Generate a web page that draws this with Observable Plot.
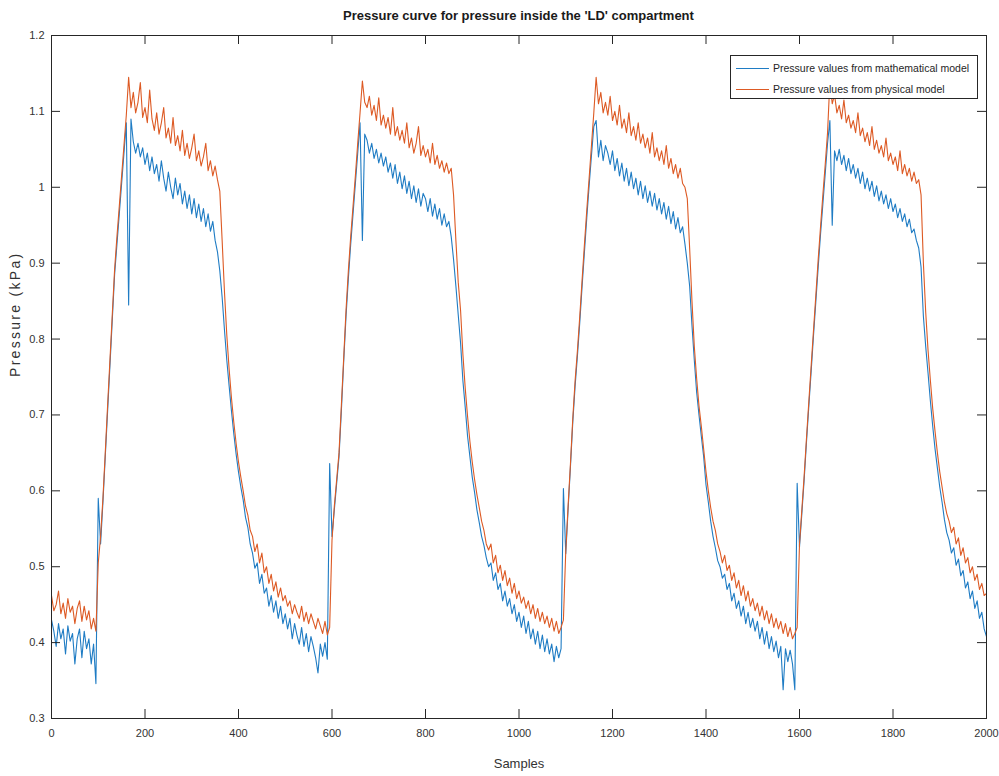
<!DOCTYPE html>
<html><head><meta charset="utf-8">
<script src="https://cdn.jsdelivr.net/npm/d3@7"></script>
<script src="https://cdn.jsdelivr.net/npm/@observablehq/plot@0.6"></script>
<style>
body{margin:0;background:#fff;width:999px;height:776px;overflow:hidden;position:relative;}
.nar{font-family:"Liberation Sans Narrow","Arial Narrow","Liberation Sans",Arial,sans-serif;}
#title{position:absolute;top:0;left:0;width:1037px;height:30px;line-height:32px;text-align:center;font-weight:bold;font-size:13px;color:#1a1a1a;}
#chart{position:absolute;top:30px;left:0;}
#legend{position:absolute;left:730px;top:55px;width:246px;height:42px;border:1px solid #262626;background:#fff;font-size:10.5px;color:#262626;}
#legend .row{position:absolute;left:0;height:22px;line-height:22px;white-space:nowrap;}
#legend .sw{position:absolute;left:5px;top:11px;width:33px;height:0;border-top:1px solid;}
#legend .lb{position:absolute;left:42px;top:0;}
</style></head><body>
<div id="title" class="nar">Pressure curve for pressure inside the 'LD' compartment</div>
<div id="chart"></div>
<div id="legend" class="nar">
  <div class="row" style="top:1px"><span class="sw" style="border-color:#1f7cc4"></span><span class="lb">Pressure values from mathematical model</span></div>
  <div class="row" style="top:22px"><span class="sw" style="border-color:#dd5a24"></span><span class="lb">Pressure values from physical model</span></div>
</div>
<script>
const seriesNames = ["Pressure values from mathematical model", "Pressure values from physical model"];
const seriesColors = ["#1f7cc4", "#dd5a24"];
const sampleStep = 5;
const xTicks = [0, 200, 400, 600, 800, 1000, 1200, 1400, 1600, 1800, 2000];
const xTickLabels = ["0", "200", "400", "600", "800", "1000", "1200", "1400", "1600", "1800", "2000"];
const yTicks = [0.3, 0.4, 0.5, 0.6, 0.7, 0.8, 0.9, 1, 1.1, 1.2];
const yTickLabels = ["0.3", "0.4", "0.5", "0.6", "0.7", "0.8", "0.9", "1", "1.1", "1.2"];

// mathematical model (blue), one value every 5 samples, 0..2000
const mathModel = [
0.430,0.415,0.395,0.425,0.405,0.418,0.385,0.422,0.402,0.412,0.372,0.405,0.418,0.380,0.415,0.392,0.405,0.372,0.398,0.346,
0.590,0.530,0.585,0.645,0.705,0.765,0.825,0.885,0.925,0.965,1.005,1.045,1.085,0.845,1.090,1.060,1.045,1.058,1.040,1.052,
1.030,1.045,1.022,1.040,1.018,1.030,1.008,1.035,1.012,0.995,1.020,1.000,0.985,1.012,0.990,1.005,0.978,0.995,0.972,0.990,
0.965,0.985,0.960,0.978,0.955,0.972,0.948,0.965,0.942,0.955,0.930,0.915,0.890,0.855,0.812,0.772,0.738,0.705,0.675,0.648,
0.625,0.605,0.588,0.565,0.552,0.530,0.518,0.498,0.505,0.478,0.490,0.465,0.472,0.448,0.462,0.440,0.455,0.432,0.448,0.425,
0.438,0.418,0.432,0.405,0.425,0.410,0.398,0.420,0.395,0.412,0.388,0.408,0.395,0.380,0.360,0.398,0.382,0.400,0.378,0.636,
0.540,0.575,0.610,0.645,0.705,0.770,0.830,0.880,0.925,0.965,1.005,1.045,1.085,0.930,1.070,1.062,1.045,1.058,1.038,1.050,
1.032,1.045,1.028,1.040,1.020,1.032,1.012,1.030,1.005,1.020,0.998,1.015,0.992,1.008,0.985,1.002,0.980,0.998,0.975,0.992,
0.985,0.968,0.985,0.962,0.978,0.958,0.972,0.950,0.965,0.948,0.955,0.935,0.905,0.870,0.832,0.795,0.745,0.710,0.672,0.645,
0.618,0.598,0.575,0.558,0.540,0.528,0.512,0.500,0.505,0.482,0.492,0.470,0.478,0.455,0.468,0.448,0.458,0.438,0.450,0.428,
0.440,0.420,0.435,0.412,0.428,0.405,0.418,0.398,0.415,0.392,0.410,0.388,0.405,0.385,0.398,0.375,0.395,0.380,0.392,0.603,
0.517,0.575,0.631,0.690,0.738,0.778,0.822,0.870,0.915,0.960,1.002,1.042,1.080,1.088,1.040,1.062,1.035,1.055,1.045,1.030,
1.048,1.022,1.038,1.015,1.032,1.008,1.025,1.002,1.020,0.998,1.012,0.990,1.008,0.985,1.002,0.980,0.995,0.975,0.992,0.970,
0.985,0.965,0.980,0.958,0.975,0.952,0.968,0.945,0.960,0.940,0.948,0.925,0.900,0.870,0.818,0.772,0.730,0.700,0.672,0.645,
0.608,0.585,0.560,0.540,0.525,0.508,0.500,0.485,0.490,0.470,0.478,0.455,0.465,0.445,0.455,0.435,0.448,0.425,0.440,0.420,
0.432,0.415,0.428,0.405,0.420,0.398,0.415,0.392,0.408,0.388,0.402,0.380,0.395,0.338,0.392,0.375,0.390,0.372,0.338,0.610,
0.526,0.570,0.615,0.665,0.712,0.758,0.805,0.850,0.895,0.938,0.978,1.018,1.058,1.088,0.950,1.048,1.035,1.050,1.030,1.042,
1.022,1.038,1.018,1.030,1.012,1.025,1.005,1.020,0.998,1.012,0.995,1.008,0.988,1.002,0.982,0.995,0.978,0.990,0.972,0.985,
0.968,0.978,0.960,0.972,0.955,0.965,0.948,0.958,0.940,0.945,0.930,0.920,0.895,0.830,0.790,0.755,0.718,0.685,0.655,0.630,
0.605,0.585,0.562,0.545,0.535,0.518,0.525,0.502,0.510,0.488,0.495,0.472,0.480,0.458,0.468,0.445,0.455,0.432,0.440,0.418,
0.408
];

// physical model (orange), one value every 5 samples, 0..2000
const physModel = [
0.462,0.442,0.450,0.468,0.438,0.452,0.432,0.458,0.440,0.448,0.425,0.445,0.455,0.428,0.448,0.430,0.442,0.418,0.432,0.415,
0.505,0.540,0.590,0.650,0.712,0.772,0.832,0.892,0.935,0.975,1.015,1.055,1.095,1.145,1.105,1.125,1.098,1.112,1.138,1.092,
1.105,1.085,1.128,1.090,1.075,1.098,1.070,1.085,1.105,1.065,1.078,1.058,1.092,1.055,1.068,1.048,1.075,1.042,1.058,1.038,
1.052,1.070,1.035,1.048,1.028,1.040,1.058,1.022,1.035,1.015,1.028,1.010,0.995,0.930,0.862,0.805,0.760,0.722,0.690,0.662,
0.638,0.618,0.600,0.580,0.568,0.548,0.540,0.520,0.530,0.505,0.518,0.492,0.500,0.478,0.490,0.468,0.480,0.460,0.472,0.455,
0.462,0.448,0.455,0.438,0.450,0.440,0.432,0.448,0.428,0.440,0.425,0.438,0.428,0.418,0.432,0.422,0.412,0.428,0.410,0.420,
0.535,0.580,0.615,0.650,0.712,0.775,0.838,0.890,0.935,0.975,1.015,1.058,1.098,1.140,1.112,1.105,1.120,1.095,1.108,1.088,
1.118,1.082,1.095,1.078,1.092,1.070,1.105,1.068,1.080,1.062,1.075,1.058,1.085,1.052,1.065,1.045,1.058,1.080,1.042,1.055,
1.040,1.050,1.032,1.058,1.030,1.042,1.025,1.035,1.020,1.032,1.018,1.025,0.990,0.930,0.875,0.838,0.780,0.735,0.698,0.665,
0.638,0.615,0.595,0.578,0.560,0.548,0.530,0.522,0.530,0.505,0.515,0.492,0.502,0.482,0.495,0.475,0.485,0.465,0.478,0.458,
0.468,0.452,0.460,0.445,0.455,0.438,0.450,0.432,0.445,0.428,0.440,0.425,0.435,0.420,0.432,0.415,0.428,0.412,0.420,0.430,
0.520,0.580,0.635,0.695,0.745,0.785,0.830,0.878,0.925,0.970,1.012,1.055,1.098,1.145,1.110,1.125,1.098,1.112,1.095,1.120,
1.088,1.100,1.082,1.108,1.078,1.090,1.072,1.098,1.068,1.080,1.062,1.085,1.058,1.070,1.052,1.065,1.045,1.072,1.040,1.052,
1.035,1.048,1.030,1.055,1.025,1.038,1.018,1.030,1.012,1.025,1.005,1.000,0.985,0.920,0.850,0.790,0.748,0.712,0.685,0.655,
0.625,0.600,0.578,0.560,0.548,0.530,0.520,0.505,0.515,0.495,0.502,0.482,0.492,0.472,0.482,0.462,0.475,0.455,0.468,0.448,
0.458,0.442,0.452,0.435,0.448,0.430,0.442,0.425,0.438,0.420,0.432,0.418,0.428,0.412,0.425,0.408,0.420,0.405,0.412,0.420,
0.530,0.575,0.620,0.670,0.718,0.765,0.812,0.858,0.905,0.948,0.990,1.030,1.072,1.140,1.110,1.122,1.098,1.108,1.090,1.115,
1.085,1.095,1.078,1.088,1.072,1.098,1.068,1.078,1.060,1.072,1.055,1.080,1.050,1.062,1.045,1.055,1.040,1.065,1.035,1.045,
1.030,1.040,1.022,1.048,1.018,1.030,1.015,1.025,1.008,1.020,1.005,1.010,0.990,0.900,0.835,0.785,0.745,0.708,0.678,0.650,
0.625,0.605,0.585,0.570,0.560,0.545,0.552,0.530,0.538,0.515,0.525,0.505,0.512,0.492,0.500,0.482,0.490,0.470,0.478,0.462,
0.465
];

const samples = mathModel.map((_, i) => i * sampleStep);
const rows = [
  ...samples.map((s, i) => ({sample: s, value: mathModel[i], series: seriesNames[0]})),
  ...samples.map((s, i) => ({sample: s, value: physModel[i], series: seriesNames[1]}))
];

const W = 999, H = 746;
const mT = 5, mB = 58, mL = 51, mR = 13;
const innerH = H - mT - mB, innerW = W - mL - mR;
const tickLen = 9;
const axisColor = "#262626";
const font = "'Liberation Sans Narrow','Arial Narrow','Liberation Sans',Arial,sans-serif";

const chart = Plot.plot({
  width: W, height: H,
  marginTop: mT, marginBottom: mB, marginLeft: mL, marginRight: mR,
  style: {fontFamily: font, fontSize: "11px", color: axisColor, background: "#fff"},
  x: {domain: [0, 2000], ticks: xTicks},
  y: {domain: [0.3, 1.2], ticks: yTicks},
  color: {domain: seriesNames, range: seriesColors},
  marks: [
    Plot.lineY(rows, {x: "sample", y: "value", z: "series", stroke: "series", strokeWidth: 1.1}),
    Plot.frame({stroke: axisColor, strokeWidth: 1}),
    Plot.ruleX(xTicks, {x: d => d, insetTop: innerH - tickLen, stroke: axisColor}),
    Plot.ruleX(xTicks, {x: d => d, insetBottom: innerH - tickLen, stroke: axisColor}),
    Plot.ruleY(yTicks, {y: d => d, insetRight: innerW - tickLen, stroke: axisColor}),
    Plot.ruleY(yTicks, {y: d => d, insetLeft: innerW - tickLen, stroke: axisColor}),
    Plot.axisX(xTicks, {tickSize: 0, tickPadding: 11, label: null, tickFormat: (d, i) => xTickLabels[i], fontSize: 11, fill: "#333"}),
    Plot.axisY(yTicks, {tickSize: 0, tickPadding: 7, label: null, tickFormat: (d, i) => yTickLabels[i], fontSize: 11, fill: "#333"}),
    Plot.text(["Samples"], {frameAnchor: "bottom", dy: 49, fontSize: 13, fill: "#333"}),
    Plot.text(["Pressure (kPa)"], {frameAnchor: "left", dx: -36, rotate: -90, fontSize: 14, fill: "#333", fontFamily: "'Liberation Sans',Arial,sans-serif"})
  ]
});
d3.select(chart).selectAll("text").filter(function () { return this.textContent === "Pressure (kPa)"; })
  .style("letter-spacing", "2.3px");
document.getElementById("chart").appendChild(chart);
</script>
</body></html>
